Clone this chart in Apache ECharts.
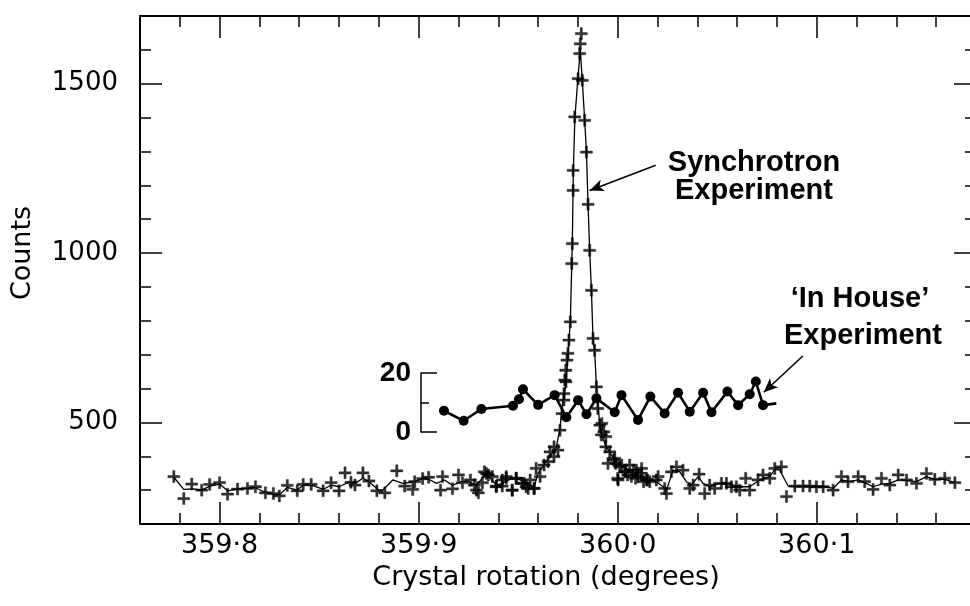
<!DOCTYPE html>
<html>
<head>
<meta charset="utf-8">
<script src="https://cdn.jsdelivr.net/npm/echarts@6/dist/echarts.min.js"></script>
<style>
html,body{margin:0;padding:0;background:#fff;}
#chart{width:970px;height:606px;}
</style>
</head>
<body>
<div id="chart"></div>
<script>
// ---- data ----
const xMajorTicks = [359.8, 359.9, 360.0, 360.1];
const xMinorTicks = [359.78, 359.80, 359.82, 359.84, 359.86, 359.88, 359.90, 359.92, 359.94, 359.96, 359.98,
                     360.00, 360.02, 360.04, 360.06, 360.08, 360.10, 360.12, 360.14, 360.16];
const yMajorTicks = [500, 1000, 1500];
const yMinorTicks = [300, 400, 500, 600, 700, 800, 900, 1000, 1100, 1200, 1300, 1400, 1500, 1600];
const insetMajorTicks = [0, 20];
const insetMinorTicks = [10];

// Synchrotron experiment: the drawn curve through the measurements
const synchrotronCurve = [
  [359.777,338],[359.782,302],[359.787,304],[359.791,300],[359.795,312],[359.800,318],[359.804,298],
  [359.809,304],[359.813,305],[359.818,307],[359.822,296],[359.827,288],[359.830,286],[359.834,308],
  [359.839,300],[359.842,315],[359.847,313],[359.852,302],[359.856,315],[359.860,310],[359.865,324],
  [359.868,320],[359.872,335],[359.875,325],[359.880,300],[359.882,300],[359.887,330],[359.892,320],
  [359.897,324],[359.902,334],[359.905,332],[359.909,320],[359.913,330],[359.917,314],[359.921,324],
  [359.924,327],[359.929,315],[359.934,349],[359.939,315],[359.942,320],[359.947,335],[359.951,330],
  [359.956,315],[359.958,310],[359.960,350],[359.963,375],[359.966,400],[359.969,423],[359.970,453],
  [359.971,482],[359.9717,526],[359.9725,566],[359.9734,590],[359.9742,625],[359.9755,743],[359.9762,800],
  [359.9772,1028],[359.9777,1244],[359.9785,1402],[359.9800,1515],[359.9812,1600],[359.9822,1510],
  [359.9834,1392],[359.9843,1298],[359.9851,1144],[359.9859,1008],[359.9868,890],[359.9876,743],
  [359.9884,713],[359.9893,605],[359.9910,492],[359.9918,463],[359.9943,428],[359.9968,404],[359.9993,384],
  [360.0027,369],[360.0060,359],[360.0094,345],[360.0127,340],[360.0160,330],[360.0194,325],[360.0228,310],
  [360.0245,300],[360.0278,359],[360.0312,354],[360.0345,325],[360.0370,315],[360.0404,340],[360.0429,320],
  [360.0462,310],[360.0513,320],[360.0563,318],[360.0613,310],[360.0663,310],[360.0713,330],[360.0764,340],
  [360.0789,361],[360.0814,359],[360.0856,312],[360.0898,310],[360.0948,310],[360.0998,310],[360.1049,310],
  [360.1082,305],[360.1124,330],[360.1166,325],[360.1208,330],[360.1241,322],[360.1283,310],[360.1325,318],
  [360.1367,320],[360.1409,330],[360.1451,328],[360.1501,325],[360.1551,340],[360.1593,332],[360.1643,332],
  [360.1694,322]
];

// Synchrotron experiment: individual measurements (+)
const synchrotronPoints = [
  [359.777,340],[359.782,275],[359.786,318],[359.791,300],[359.795,317],[359.800,322],[359.804,288],
  [359.809,303],[359.814,305],[359.818,310],[359.823,292],[359.827,290],[359.830,283],[359.834,314],
  [359.839,298],[359.842,317],[359.846,317],[359.852,298],[359.856,322],[359.860,298],[359.863,351],
  [359.866,323],[359.868,315],[359.872,351],[359.875,327],[359.879,298],[359.883,292],[359.889,357],
  [359.893,312],[359.897,302],[359.898,325],[359.902,334],[359.905,338],[359.911,300],[359.912,340],
  [359.917,304],[359.920,345],[359.922,322],[359.926,330],[359.930,292],[359.932,322],[359.934,349],
  [359.937,340],[359.939,312],[359.942,330],[359.944,340],[359.947,300],[359.949,335],[359.953,320],
  [359.955,305],[359.958,305],
  [359.928,315],[359.929,300],[359.933,354],[359.935,345],[359.939,310],[359.942,312],[359.944,335],
  [359.947,300],[359.949,335],[359.952,320],[359.954,310],[359.956,330],[359.958,305],[359.959,364],
  [359.961,340],[359.963,374],[359.965,384],[359.966,413],[359.968,399],[359.968,428],[359.970,418],
  [359.971,477],[359.972,526],[359.973,566],[359.973,585],[359.974,620],
  [359.9734,625],[359.9739,654],[359.9745,684],[359.9750,704],[359.9755,743],[359.9762,797],[359.9769,969],
  [359.9772,1028],[359.9776,1185],[359.9776,1244],[359.9784,1402],[359.9801,1515],[359.9809,1589],
  [359.9812,1618],[359.9817,1648],[359.9822,1510],[359.9834,1392],[359.9843,1298],[359.9851,1144],
  [359.9859,1008],[359.9868,890],[359.9876,748],[359.9884,713],[359.9893,605],
  [359.990,541],[359.991,492],[359.9918,463],[359.992,497],[359.993,472],[359.994,458],[359.994,428],
  [359.996,413],[359.998,389],[359.999,379],[360.000,335],[360.002,374],[360.004,354],[360.005,345],
  [360.008,359],[360.009,335],[360.012,364],[360.013,325],[360.015,330],[359.9951,379],[359.9985,394],
  [360.0002,330],[360.001,369],[360.0035,354],[360.006,374],[360.0069,340],[360.0094,359],[360.0102,340],
  [360.0119,350],[360.0144,330],[360.0161,325],[360.0194,330],[360.0203,340],[360.0236,305],[360.0245,290],
  [360.0270,354],[360.0295,369],[360.0328,359],[360.0362,305],[360.0379,315],[360.0409,347],[360.0437,290],
  [360.0462,315],[360.0487,305],[360.0521,320],[360.0546,320],[360.0571,310],[360.0596,310],[360.0613,300],
  [360.0643,335],[360.0663,300],[360.0705,330],[360.0730,345],[360.0764,335],[360.0789,364],[360.0822,369],
  [360.0848,281],[360.0890,312],[360.0931,312],[360.0965,312],[360.0998,310],[360.1032,310],[360.1082,300],
  [360.1124,340],[360.1157,325],[360.1208,340],[360.1241,325],[360.1283,302],[360.1325,335],[360.1367,315],
  [360.1409,345],[360.1451,330],[360.1501,320],[360.1551,349],[360.1593,332],[360.1643,335],[360.1694,322]
];

// 'In House' experiment (inset, counts 0-20)
const inHousePoints = [
  [359.9127,7.2],[359.9226,3.8],[359.9315,7.8],[359.9474,8.9],[359.9504,11.1],[359.9524,14.5],
  [359.9600,9.2],[359.9683,12.5],[359.9742,5.0],[359.9801,10.8],[359.9843,6.0],[359.9893,11.4],
  [359.9985,6.7],[360.0019,12.5],[360.0102,4.1],[360.0164,12.0],[360.0236,6.3],[360.0303,13.3],
  [360.0362,6.9],[360.0429,13.3],[360.0471,6.7],[360.0551,13.7],[360.0605,9.1],[360.0663,12.8],
  [360.0694,17.1],[360.0730,9.1]
];
const inHouseTail = [360.0797, 9.7];   // end of the drawn line, no marker

// annotation arrows (data coordinates of the main axes)
const synchArrow = [[360.0191, 1259], [359.9859, 1185]];
const inHouseArrow = [[360.0930, 696], [360.0734, 589]];

const X_MIN = 359.76, X_MAX = 360.18, Y_MIN = 200, Y_MAX = 1700;

// ---- chart ----
const tickFont = 'DejaVu Sans';
const boldFont = 'Liberation Sans';
const fmtDeg = v => v.toFixed(1).replace('.', '\u00b7');
const fmtInt = v => String(Math.round(v));
const plus = 'path://M4.05,0h1.9v4.05h4.05v1.9h-4.05v4.05h-1.9v-4.05h-4.05v-1.9h4.05z';

function xAx(pos, values, len, withLine, withLabels) {
  return {
    type: 'value', gridIndex: 0, position: pos, min: X_MIN, max: X_MAX,
    axisLine: {show: withLine, lineStyle: {color: '#000', width: 2}},
    axisTick: {show: true, inside: true, length: len, customValues: values, lineStyle: {color: '#000', width: 1.5}},
    axisLabel: withLabels ? {show: true, customValues: xMajorTicks, formatter: fmtDeg, margin: 8,
      color: '#000', fontFamily: tickFont, fontSize: 27} : {show: false},
    splitLine: {show: false}
  };
}
function yAx(pos, values, len, withLine, withLabels) {
  return {
    type: 'value', gridIndex: 0, position: pos, min: Y_MIN, max: Y_MAX,
    axisLine: {show: withLine, lineStyle: {color: '#000', width: 2}},
    axisTick: {show: true, inside: true, length: len, customValues: values, lineStyle: {color: '#000', width: 1.5}},
    axisLabel: withLabels ? {show: true, customValues: yMajorTicks, formatter: fmtInt, margin: 22,
      color: '#000', fontFamily: tickFont, fontSize: 26} : {show: false},
    splitLine: {show: false}
  };
}

const xAxes = [
  Object.assign(xAx('bottom', xMajorTicks, 22, true, true), {
    name: 'Crystal rotation (degrees)', nameLocation: 'middle', nameGap: 40,
    nameTextStyle: {color: '#000', fontFamily: tickFont, fontSize: 27, padding: [0, 24, 0, 0]}
  }),
  xAx('bottom', xMinorTicks, 11, false, false),
  xAx('top', xMajorTicks, 22, true, false),
  xAx('top', xMinorTicks, 11, false, false),
  {type: 'value', gridIndex: 1, min: X_MIN, max: X_MAX, show: false}
];
const yAxes = [
  Object.assign(yAx('left', yMajorTicks, 22, true, true), {
    name: 'Counts', nameLocation: 'middle', nameGap: 104, nameRotate: 90,
    nameTextStyle: {color: '#000', fontFamily: tickFont, fontSize: 27, padding: [0, 0, 0, 34]}
  }),
  yAx('left', yMinorTicks, 11, false, false),
  yAx('right', yMajorTicks, 22, true, false),
  yAx('right', yMinorTicks, 11, false, false),
  {
    type: 'value', gridIndex: 1, position: 'left', offset: -281, min: 0, max: 20,
    axisLine: {show: true, lineStyle: {color: '#000', width: 1.5}},
    axisTick: {show: true, inside: true, length: 16, customValues: insetMajorTicks, lineStyle: {color: '#000', width: 1.5}},
    axisLabel: {show: true, customValues: insetMajorTicks, formatter: fmtInt, margin: 10, color: '#000',
      fontFamily: boldFont, fontWeight: 'bold', fontSize: 28},
    splitLine: {show: false}
  },
  {
    type: 'value', gridIndex: 1, position: 'left', offset: -281, min: 0, max: 20,
    axisLine: {show: false},
    axisTick: {show: true, inside: true, length: 8, customValues: insetMinorTicks, lineStyle: {color: '#000', width: 1.5}},
    axisLabel: {show: false}, splitLine: {show: false}
  }
];

const annFont = 'bold 29px "Liberation Sans", Arial, sans-serif';
const option = {
  animation: false,
  backgroundColor: '#fff',
  grid: [
    {left: 140, width: 836, top: 16, height: 508, outerBoundsMode: 'none', containLabel: false},
    {left: 140, width: 836, top: 373, height: 59, outerBoundsMode: 'none', containLabel: false}
  ],
  xAxis: xAxes,
  yAxis: yAxes,
  series: [
    {
      name: 'Synchrotron curve', type: 'line', xAxisIndex: 0, yAxisIndex: 0,
      data: synchrotronCurve, showSymbol: false, symbol: 'none',
      lineStyle: {color: '#000', width: 1.3}, z: 2,
      markLine: {
        silent: true, symbol: ['none', 'arrow'], symbolSize: [9, 14],
        label: {show: false},
        lineStyle: {color: '#000', width: 1.6, type: 'solid'},
        data: [
          [{coord: synchArrow[0]}, {coord: synchArrow[1]}],
          [{coord: inHouseArrow[0]}, {coord: inHouseArrow[1]}]
        ]
      }
    },
    {
      name: 'Synchrotron experiment', type: 'scatter', xAxisIndex: 0, yAxisIndex: 0,
      data: synchrotronPoints, symbol: plus, symbolSize: 12,
      itemStyle: {color: '#000', borderColor: '#000', borderWidth: 0.4}, z: 3
    },
    {
      name: "'In House' experiment", type: 'line', xAxisIndex: 4, yAxisIndex: 4,
      data: inHousePoints.concat([{value: inHouseTail, symbol: 'none'}]),
      symbol: 'circle', symbolSize: 10, showSymbol: true,
      itemStyle: {color: '#000'}, lineStyle: {color: '#000', width: 2.6}, z: 4
    }
  ],
  graphic: [
    {type: 'text', x: 754, y: 163, style: {text: 'Synchrotron', font: annFont, fill: '#000', textAlign: 'center', textVerticalAlign: 'middle'}},
    {type: 'text', x: 754, y: 191, style: {text: 'Experiment', font: annFont, fill: '#000', textAlign: 'center', textVerticalAlign: 'middle'}},
    {type: 'text', x: 860, y: 299, style: {text: '\u2018In House\u2019', font: annFont, fill: '#000', textAlign: 'center', textVerticalAlign: 'middle'}},
    {type: 'text', x: 863, y: 336, style: {text: 'Experiment', font: annFont, fill: '#000', textAlign: 'center', textVerticalAlign: 'middle'}}
  ]
};

const chart = echarts.init(document.getElementById('chart'), null, {renderer: 'canvas'});
chart.setOption(option);
</script>
</body>
</html>
